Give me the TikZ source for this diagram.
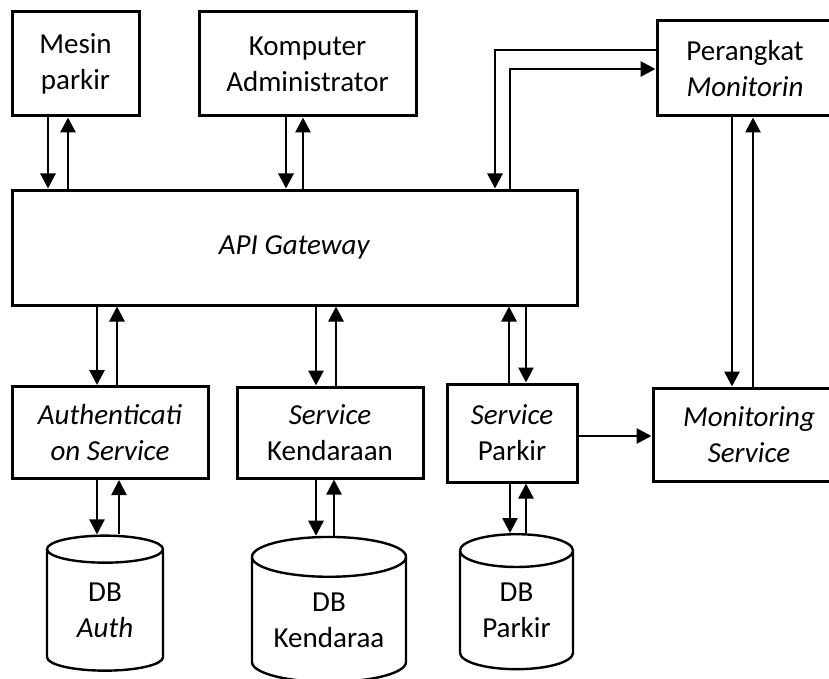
\documentclass[tikz,border=0pt]{standalone}
\usepackage{fontspec}
\setmainfont{Carlito}
\usetikzlibrary{shapes.geometric,arrows.meta}
\begin{document}
\begin{tikzpicture}
  [x=1pt,y=-1pt,every node/.style={draw,line width=3pt,align=center,inner sep=0pt,font=\fontsize{29}{36}\selectfont}]
  \tikzstyle{db} = [cylinder,shape border rotate=90,aspect=0.48,line width=2.4pt,minimum width=116,minimum height=135]
  \tikzstyle{arr} = [line width=2.8pt,-{Triangle[length=15pt,width=15pt]}]
  \useasboundingbox (0,0) rectangle (829,679);
  \clip (0,0) rectangle (829,679);
  \node[minimum width=127,minimum height=104] (mesin) at (75.5,64) {Mesin\\parkir};
  \node[minimum width=217,minimum height=104] (komp) at (307.5,64) {Komputer\\Administrator};
  \node[minimum width=176,minimum height=95] (perangkat) at (745,68.5) {Perangkat\\\textit{Monitorin}};
  \node[minimum width=565,minimum height=115] (api) at (294.5,247.5) {\textit{API Gateway}};
  \node[minimum width=196,minimum height=92] (auth) at (110,432.5) {\textit{Authenticati}\\\textit{on Service}};
  \node[minimum width=186,minimum height=91] (kend) at (330,432.5) {\textit{Service}\\Kendaraan};
  \node[minimum width=130,minimum height=98] (sparkir) at (512,433) {\textit{Service}\\Parkir};
  \node[minimum width=192,minimum height=93] (monserv) at (749,434.5) {\textit{Monitoring}\\\textit{Service}};
  \node[db] (dbauth) at (105,610.5) {DB\\\textit{Auth}};
  \node[db,aspect=0.36,minimum width=154,minimum height=145] (dbkend) at (329,620) {DB\\Kendaraa};
  \node[db,minimum width=113] (dbparkir) at (516.5,610.5) {DB\\Parkir};

\foreach \source /\dest /\xa /\xb in {mesin/api/48/68,komp/api/286/303,api/auth/97/117,api/kend/316/336,api/sparkir/526/509,perangkat/monserv/732/753} {
   \draw[arr] (\source.south -| \xa,0) -- (\dest.north -| \xa,0);
   \draw[arr] (\dest.north -| \xb,0) -- (\source.south -| \xb,0);
}
\foreach \source /\dest /\xa /\xb in {auth/dbauth/97/119,kend/dbkend/316/334,sparkir/dbparkir/510/526} {
   \draw[arr,line width=2.4pt] (\source.south -| \xa,0) -- (\dest.north -| \xa,0);
   \draw[arr,line width=2.4pt] (\dest.north -| \xb,0) -- (\source.south -| \xb,0);
}
  \draw[arr] (perangkat.west |- 0,50) -| (api.north -| 495,0);
  \draw[arr] (api.north -| 510,0) |- (perangkat.west |- 0,69);
  \draw[arr] (sparkir.east |- 0,436) -- (monserv.west |- 0,436);

  \end{tikzpicture}
\end{document}
